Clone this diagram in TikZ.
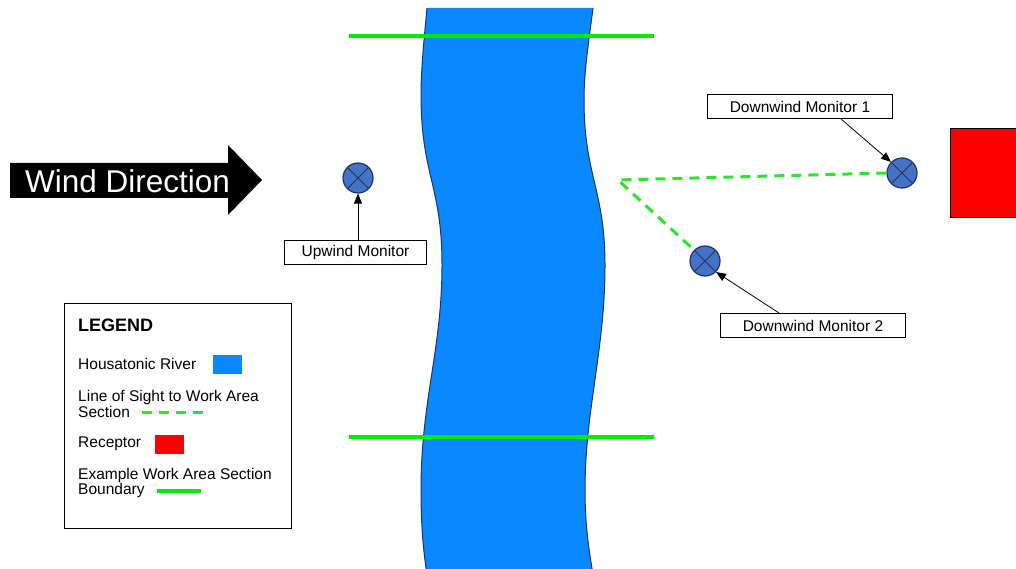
\documentclass[tikz,border=0pt]{standalone}
\usepackage{fontspec}
\setmainfont{Liberation Sans}
\usetikzlibrary{arrows.meta}
\definecolor{riverblue}{RGB}{10,136,255}
\definecolor{boundgreen}{RGB}{0,235,0}
\definecolor{dashgreen}{RGB}{40,230,40}
\definecolor{monfill}{RGB}{68,114,196}
\definecolor{monedge}{RGB}{30,50,100}
\tikzset{
  monitor/.style={circle,draw=monedge,line width=1.2pt,fill=monfill,minimum size=30pt,inner sep=0pt,
    path picture={\draw[monedge,line width=1pt] (path picture bounding box.north west)--(path picture bounding box.south east) (path picture bounding box.north east)--(path picture bounding box.south west);}},
  label box/.style={draw=black,line width=1pt,fill=white,font=\fontsize{15.5}{17}\selectfont,inner sep=0pt,minimum height=24pt,anchor=north west},
  pointer/.style={draw=black,line width=0.8pt,-{Triangle[length=10pt,width=8pt]}},
  boundary/.style={boundgreen,line width=4pt},
  sight/.style={dashgreen,line width=3pt,dash pattern=on 10pt off 7pt},
  legtext/.style={anchor=west,font=\fontsize{15.5}{14}\selectfont,inner sep=0pt,align=left},
  bank/.style={monedge,line width=1pt}
}
\begin{document}
\begin{tikzpicture}[x=1pt,y=-1pt]
\useasboundingbox (0,0) rectangle (1016,569);
% river
\fill[riverblue] (427,8) .. controls (424,40) and (421,70) .. (421,95)
  .. controls (421,175) and (442,185) .. (442,265)
  .. controls (442,350) and (421,400) .. (421,490)
  .. controls (421,530) and (424,555) .. (427,575)
  -- (593,575) .. controls (590,555) and (585,530) .. (585,490)
  .. controls (585,410) and (605,350) .. (605,265)
  .. controls (605,190) and (584,175) .. (584,100)
  .. controls (584,70) and (589,40) .. (593,8) -- cycle;
\draw[bank] (427,8) .. controls (424,40) and (421,70) .. (421,95)
  .. controls (421,175) and (442,185) .. (442,265)
  .. controls (442,350) and (421,400) .. (421,490)
  .. controls (421,530) and (424,555) .. (427,575);
\draw[bank] (593,575) .. controls (590,555) and (585,530) .. (585,490)
  .. controls (585,410) and (605,350) .. (605,265)
  .. controls (605,190) and (584,175) .. (584,100)
  .. controls (584,70) and (589,40) .. (593,8);
% boundaries
\coordinate (b1a) at (349,36); \coordinate (b1b) at (654,36);
\coordinate (b2a) at (349,437); \coordinate (b2b) at (654,437);
\draw[boundary] (b1a) -- (b1b);
\draw[boundary] (b2a) -- (b2b);
% wind arrow
\fill[black] (10,163) -- (228,163) -- (228,145) -- (262,180) -- (228,215) -- (228,198) -- (10,198) -- cycle;
\node[text=white,font=\fontsize{31.5}{33}\selectfont,anchor=west,inner sep=0pt] (wind) at (25,181) {Wind Direction};
% monitors
\node[monitor] (up) at (358,178) {};
\node[monitor] (dw1) at (902,173) {};
\node[monitor] (dw2) at (705,261) {};
% line of sight
\coordinate (los) at (618,180);
\draw[sight] (dw1.west) -- (los) -- (dw2.north west);
% receptor
\fill[red] (950,129) rectangle (1020,218);
\draw[black,line width=1pt] (950,218) -- (950,129) -- (1020,129);
\draw[black,line width=1pt] (950,218) -- (1020,218);
% labels
\node[label box,minimum width=142pt] (upl) at (284,240) {Upwind Monitor};
\node[label box,minimum width=185pt] (dw1l) at (707,94) {Downwind Monitor 1};
\node[label box,minimum width=185pt] (dw2l) at (720,313) {Downwind Monitor 2};
\draw[pointer] (upl.north -| up.south) -- (up.south);
\draw[pointer] ([xshift=41pt]dw1l.south) -- (dw1.north west);
\draw[pointer] ([xshift=-34pt]dw2l.north) -- (dw2.south east);
% legend
\node[draw=black,line width=1pt,fill=white,minimum width=227pt,minimum height=225pt,anchor=north west,inner sep=0pt] (legend) at (64,303) {};
\node[anchor=west,font=\bfseries\fontsize{18}{20}\selectfont,inner sep=0pt] (legt) at (78,325) {LEGEND};
\node[legtext] (l1) at (78,364) {Housatonic River};
\node[fill=riverblue,minimum width=29pt,minimum height=19pt,inner sep=0pt] (s1) at (227.5,364.5) {};
\node[legtext] (l2) at (78,404) {Line of Sight to Work Area\\Section};
\coordinate (s2a) at (142,412); \coordinate (s2b) at (203,412);
\draw[sight] (s2a) -- (s2b);
\node[legtext] (l3) at (78,444) {Receptor};
\node[fill=red,minimum width=29pt,minimum height=19pt,inner sep=0pt] (s3) at (169.5,444.5) {};
\node[legtext] (l4) at (78,483) {Example Work Area Section\\Boundary};
\coordinate (s4a) at (157,491); \coordinate (s4b) at (201,491);
\draw[boundary] (s4a) -- (s4b);
\end{tikzpicture}
\end{document}
